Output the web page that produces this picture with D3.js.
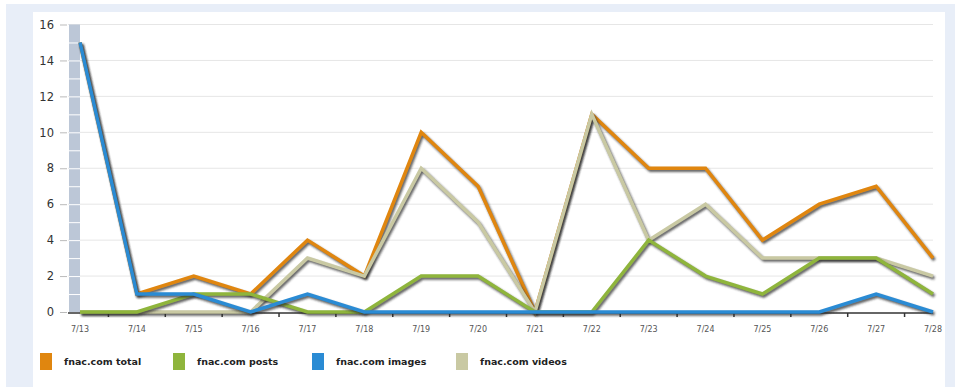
<!DOCTYPE html>
<html><head><meta charset="utf-8">
<script src="https://cdn.jsdelivr.net/npm/d3@7"></script>
<style>
html,body{margin:0;padding:0;background:#fff;}
svg{display:block;font-family:"DejaVu Sans",Verdana,sans-serif;}
</style></head>
<body>
<svg id="c" width="955" height="387"></svg>
<script>
const categories = ["7/13","7/14","7/15","7/16","7/17","7/18","7/19","7/20","7/21","7/22","7/23","7/24","7/25","7/26","7/27","7/28"];
const totalValues  = [15,1,2,1,4,2,10,7,0,11,8,8,4,6,7,3];
const postsValues  = [0,0,1,1,0,0,2,2,0,0,4,2,1,3,3,1];
const imagesValues = [15,1,1,0,1,0,0,0,0,0,0,0,0,0,1,0];
const videosValues = [0,0,0,0,3,2,8,5,0,11,4,6,3,3,3,2];
const yTicks = [0,2,4,6,8,10,12,14,16];
const seriesNames = ["fnac.com total","fnac.com posts","fnac.com images","fnac.com videos"];
const seriesColors = ["#e0860f","#8fb53c","#2a8bd4","#c9c9a3"];

const series = [
  {name: seriesNames[0], color: seriesColors[0], values: totalValues},
  {name: seriesNames[1], color: seriesColors[1], values: postsValues},
  {name: seriesNames[2], color: seriesColors[2], values: imagesValues},
  {name: seriesNames[3], color: seriesColors[3], values: videosValues}
];
const drawOrder = [0,3,1,2];

const svg = d3.select("#c");
// background frame
svg.append("rect").attr("x",6).attr("y",4).attr("width",949).attr("height",383).attr("fill","#e8eef8");
svg.append("rect").attr("x",33).attr("y",12).attr("width",912).attr("height",375).attr("fill","#ffffff");

const x = d3.scalePoint().domain(categories).range([80,933]);
const y = d3.scaleLinear().domain([0,16]).range([312,24.5]);

// gridlines
svg.append("g").selectAll("line").data(yTicks.filter(d=>d>0)).join("line")
  .attr("x1",68).attr("x2",933).attr("y1",d=>y(d)).attr("y2",d=>y(d))
  .attr("stroke","#e6e6e6").attr("stroke-width",1);

// y axis
const yAxis = svg.append("g").attr("transform","translate(67,0)")
  .call(d3.axisLeft(y).tickValues(yTicks).tickSize(7).tickPadding(6));
yAxis.select(".domain").remove();
yAxis.selectAll(".tick line").attr("stroke","#bbb");
yAxis.selectAll("text").attr("fill","#333").attr("font-size",11.5).attr("font-family","DejaVu Sans, sans-serif");

// highlight bar at first category
const barW = 11;
svg.append("rect").attr("x",x(categories[0])-barW).attr("y",y(16)).attr("width",barW)
  .attr("height",y(0)-y(16)).attr("fill","#bcc7d7");
svg.append("g").selectAll("line").data(d3.range(1,16)).join("line")
  .attr("x1",x(categories[0])-barW).attr("x2",x(categories[0]))
  .attr("y1",d=>y(d)+0.5).attr("y2",d=>y(d)+0.5).attr("stroke","#fff").attr("stroke-width",1);

// x axis
svg.append("line").attr("x1",68).attr("x2",933).attr("y1",y(0)+1).attr("y2",y(0)+1)
  .attr("stroke","#333").attr("stroke-width",1.5);
const step = x.step();
svg.append("g").selectAll("line").data(categories.slice(0,-1)).join("line")
  .attr("x1",d=>x(d)+step/2).attr("x2",d=>x(d)+step/2)
  .attr("y1",y(0)+1).attr("y2",y(0)+5).attr("stroke","#333").attr("stroke-width",1.5);
svg.append("g").selectAll("text").data(categories).join("text")
  .attr("x",d=>x(d)).attr("y",332).attr("text-anchor","middle")
  .attr("font-size",8).attr("fill","#555").text(d=>d);

// shadow filter
const defs = svg.append("defs");
const f = defs.append("filter").attr("id","sh").attr("x","-10%").attr("y","-10%").attr("width","120%").attr("height","130%");
f.append("feGaussianBlur").attr("stdDeviation",0.8);

const line = d3.line().x((d,i)=>x(categories[i])).y(d=>y(d));
const g = svg.append("g");
drawOrder.forEach(k=>{
  const s = series[k];
  g.append("path").attr("d",line(s.values)).attr("fill","none")
    .attr("stroke","#2e2e2e").attr("stroke-opacity",0.75).attr("stroke-width",3.5)
    .attr("stroke-linejoin","round").attr("transform","translate(1.5,2)").attr("filter","url(#sh)");
  g.append("path").attr("d",line(s.values)).attr("fill","none")
    .attr("stroke",s.color).attr("stroke-width",3.5).attr("stroke-linejoin","miter");
});

// legend
const legX = [40,173,312,456];
const lg = svg.append("g");
series.forEach((s,i)=>{
  lg.append("rect").attr("x",legX[i]).attr("y",353).attr("width",12).attr("height",17).attr("fill",s.color);
  lg.append("text").attr("x",legX[i]+24).attr("y",365).attr("font-size",9.5).attr("font-weight","bold")
    .attr("fill","#222").text(s.name);
});
</script>
</body></html>
